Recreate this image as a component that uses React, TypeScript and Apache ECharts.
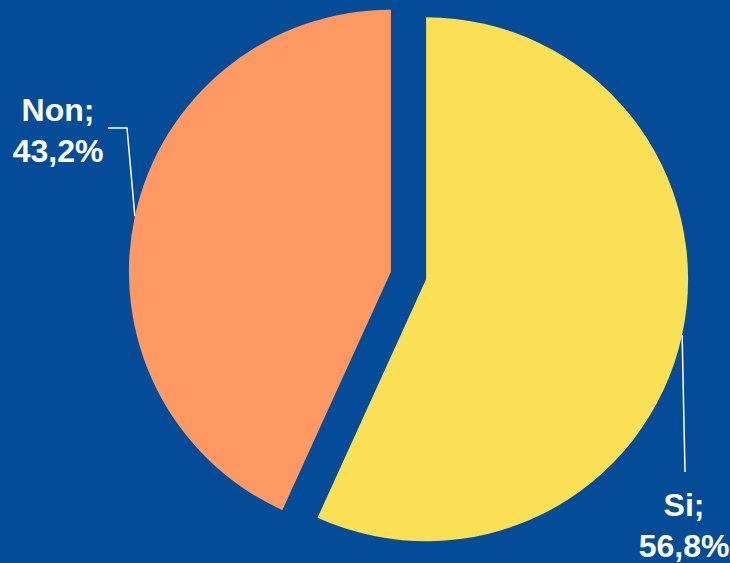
import React, { useEffect, useRef } from "react";
import * as echarts from "echarts";

const categories = ["Si", "Non"];
const values = [56.8, 43.2];
const colors = ["#FAE054", "#FE9963"];

export default function App() {
  const ref = useRef<HTMLDivElement>(null);
  useEffect(() => {
    if (!ref.current) return;
    const chart = echarts.init(ref.current, null, { renderer: "svg" });
    const cx = 408.5;
    const cy = 275.5;
    const r = 262;
    const offset = 18;
    const total = values.reduce((a, b) => a + b, 0);

    // edge points of each exploded slice along its bisector
    let acc = 0;
    const edges = values.map((v) => {
      const mid = ((acc + v / 2) / total) * 2 * Math.PI;
      acc += v;
      const dx = Math.sin(mid);
      const dy = -Math.cos(mid);
      return [cx + dx * (r + offset), cy + dy * (r + offset)];
    });

    const labelLayout: Record<string, { x: number; y: number; line: (e: number[]) => number[][] }> = {
      Si: { x: 684, y: 525, line: (e) => [e, [685, 472]] },
      Non: { x: 58, y: 130, line: (e) => [e, [127, 128], [108, 128]] },
    };

    const graphics: any[] = [];
    categories.forEach((c, i) => {
      const lay = labelLayout[c];
      graphics.push({
        type: "polyline",
        shape: { points: lay.line(edges[i]) },
        style: { stroke: "#FFFFFF", lineWidth: 1.5, fill: null },
        silent: true,
      });
      graphics.push({
        type: "text",
        x: lay.x,
        y: lay.y,
        style: {
          text: c + ";\n" + values[i].toFixed(1).replace(".", ",") + "%",
          fill: "#FFFFFF",
          font: "bold 32px 'Liberation Sans', Arial, sans-serif",
          lineHeight: 41,
          align: "center",
          verticalAlign: "middle",
        },
        silent: true,
      });
    });

    chart.setOption({
      animation: false,
      backgroundColor: "#044C97",
      graphic: graphics,
      series: [
        {
          type: "pie",
          center: [cx, cy],
          radius: r,
          startAngle: 90,
          clockwise: true,
          selectedMode: "multiple",
          selectedOffset: offset,
          emphasis: { disabled: true },
          label: { show: false },
          labelLine: { show: false },
          data: categories.map((c, i) => ({
            name: c,
            value: values[i],
            selected: true,
            itemStyle: { color: colors[i] },
          })),
        },
      ],
    });
    return () => chart.dispose();
  }, []);
  return (
    <div
      ref={ref}
      style={{ position: "fixed", left: 0, top: 0, width: 730, height: 563 }}
    />
  );
}
